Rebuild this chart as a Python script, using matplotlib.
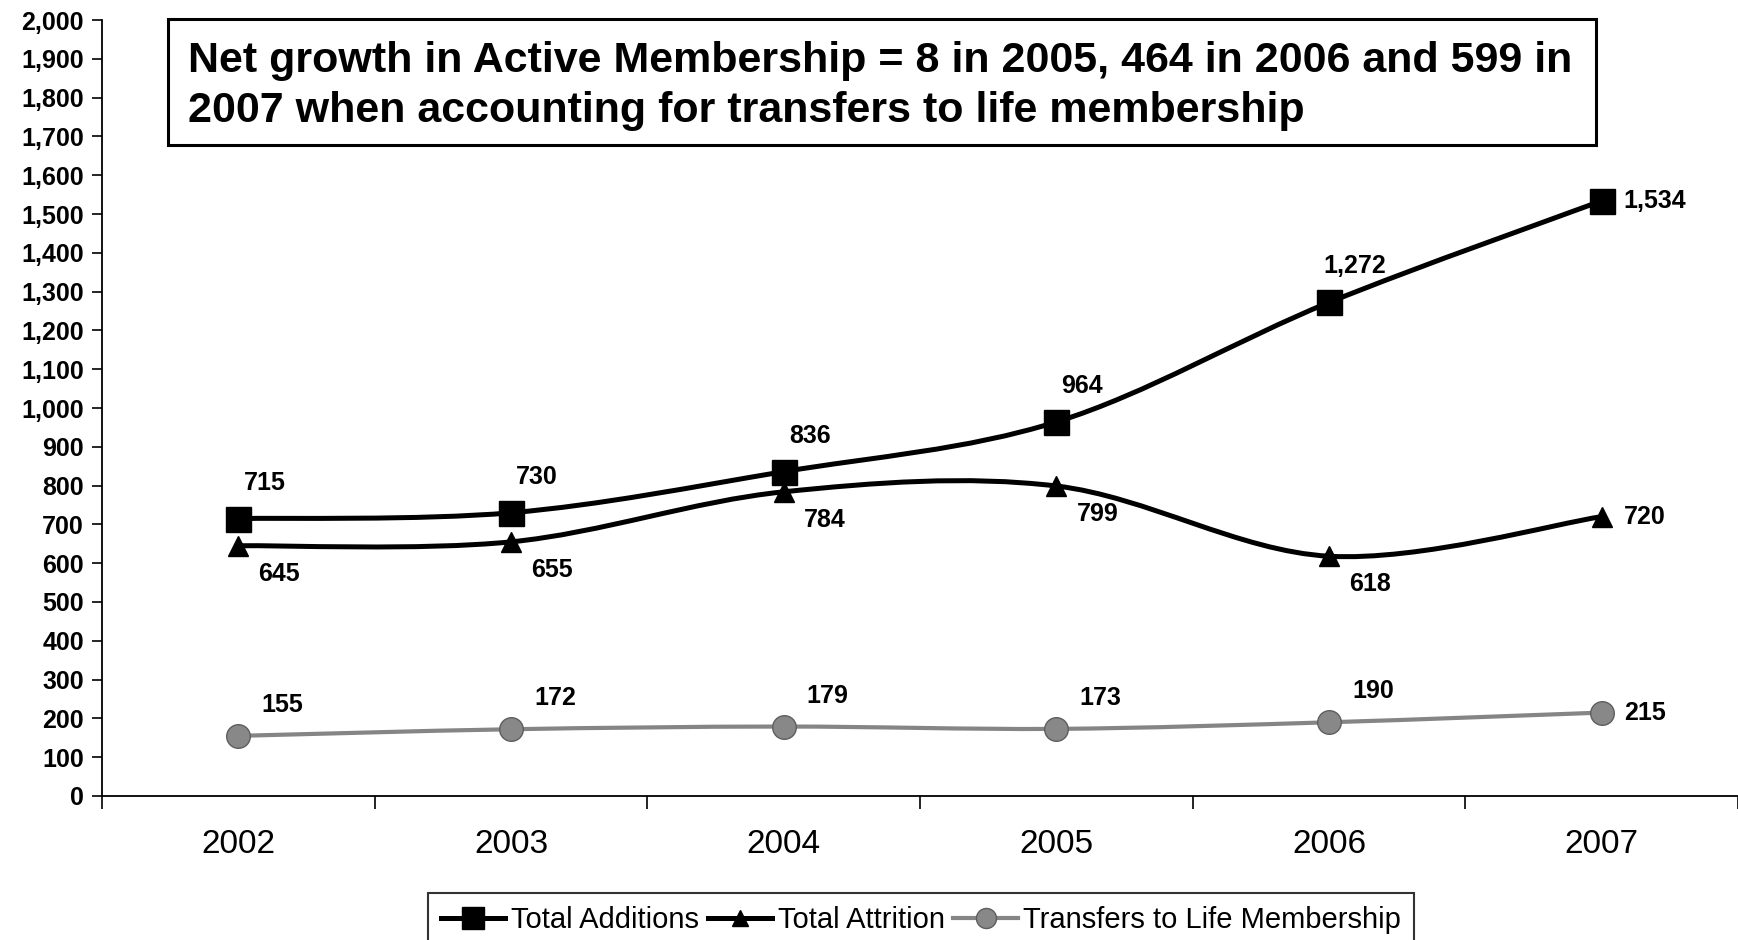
import numpy as np
import matplotlib
matplotlib.use("Agg")
import matplotlib.pyplot as plt
from matplotlib.path import Path
from matplotlib.patches import PathPatch, Rectangle
from matplotlib.lines import Line2D
from matplotlib.ticker import FuncFormatter, MultipleLocator, FixedLocator

years = ["2002", "2003", "2004", "2005", "2006", "2007"]
additions = [715, 730, 836, 964, 1272, 1534]
attrition = [645, 655, 784, 799, 618, 720]
transfers = [155, 172, 179, 173, 190, 215]

series_names = ["Total Additions", "Total Attrition", "Transfers to Life Membership"]
note = ("Net growth in Active Membership = 8 in 2005, 464 in 2006 and 599 in\n"
        "2007 when accounting for transfers to life membership")

plt.rcParams["font.family"] = ["Liberation Sans", "DejaVu Sans"]


def smooth_path(xs, ys):
    # Catmull-Rom style bezier through the points (like Excel's smoothed lines)
    n = len(xs)
    verts = [(xs[0], ys[0])]
    codes = [Path.MOVETO]
    for i in range(n - 1):
        a = i - 1 if i > 0 else i
        d = i + 2 if i + 2 < n else i + 1
        c1 = (xs[i] + (xs[i + 1] - xs[a]) / 6, ys[i] + (ys[i + 1] - ys[a]) / 6)
        c2 = (xs[i + 1] - (xs[d] - xs[i]) / 6, ys[i + 1] - (ys[d] - ys[i]) / 6)
        verts += [c1, c2, (xs[i + 1], ys[i + 1])]
        codes += [Path.CURVE4] * 3
    return Path(verts, codes)


fig = plt.figure(figsize=(17.38, 9.40), dpi=100)
ax = fig.add_axes([0.0587, 0.1532, 0.9413, 0.8255])

x = np.arange(len(years))

styles = [
    dict(data=additions, color="black", lw=3.6, marker="s", ms=18, mfc="black", mec="black",
         off=(26, 36)),
    dict(data=attrition, color="black", lw=3.6, marker="^", ms=14, mfc="black", mec="black",
         off=(41, -28)),
    dict(data=transfers, color="#858585", lw=3.0, marker="o", ms=17, mfc="#888888", mec="#5e5e5e",
         off=(44, 31)),
]

handles = []
for name, st in zip(series_names, styles):
    vals = st["data"]
    ax.add_patch(PathPatch(smooth_path(x, vals), fill=False, edgecolor=st["color"],
                           lw=st["lw"], capstyle="round", zorder=2))
    ax.plot(x, vals, linestyle="none", marker=st["marker"], ms=st["ms"],
            mfc=st["mfc"], mec=st["mec"], zorder=3)
    for i, v in enumerate(vals):
        if i == len(vals) - 1:
            ax.annotate(f"{v:,}", (x[i], v), xytext=(22, 0), textcoords="offset pixels",
                        ha="left", va="center", fontsize=18, fontweight="bold")
        else:
            ax.annotate(f"{v:,}", (x[i], v), xytext=st["off"], textcoords="offset pixels",
                        ha="center", va="center", fontsize=18, fontweight="bold")
    handles.append(Line2D([], [], color=st["color"], lw=st["lw"], marker=st["marker"],
                          ms=st["ms"] * 0.85, mfc=st["mfc"], mec=st["mec"]))

ax.set_xlim(-0.5, len(years) - 0.5)
ax.set_ylim(0, 2000)
ax.yaxis.set_major_locator(MultipleLocator(100))
ax.yaxis.set_major_formatter(FuncFormatter(lambda v, p: f"{int(v):,}"))
ax.tick_params(axis="y", direction="out", length=7, width=1.2, labelsize=18, pad=6)
for lab in ax.get_yticklabels():
    lab.set_fontweight("bold")

ax.set_xticks(x)
ax.set_xticklabels(years, fontsize=24)
ax.tick_params(axis="x", which="major", length=0, pad=24)
ax.xaxis.set_minor_locator(FixedLocator(np.arange(-0.5, len(years), 1.0)))
ax.tick_params(axis="x", which="minor", direction="out", length=9, width=1.2)

ax.spines["top"].set_visible(False)
ax.spines["right"].set_visible(False)
ax.spines["left"].set_linewidth(1.3)
ax.spines["bottom"].set_linewidth(1.3)

# note box in the upper part of the plot
fig.patches.append(Rectangle((0.0967, 0.8457), 0.8216, 0.1341, transform=fig.transFigure,
                             fill=True, facecolor="white", edgecolor="black", lw=2.2, zorder=5))
fig.text(0.108, 0.9085, note, fontsize=31, fontweight="bold", ha="left", va="center",
         linespacing=1.32, zorder=6)

leg = fig.legend(handles, series_names, loc="upper center", bbox_to_anchor=(0.53, 0.05),
                 ncol=3, frameon=True, fancybox=False, edgecolor="black",
                 handlelength=2.2, handletextpad=0.2, columnspacing=0.3, borderpad=0.45,
                 borderaxespad=0, prop={"family": ["Liberation Sans Narrow", "Liberation Sans"],
                                        "size": 21})
leg.get_frame().set_linewidth(1.5)

fig.savefig("out.png", dpi=100)
